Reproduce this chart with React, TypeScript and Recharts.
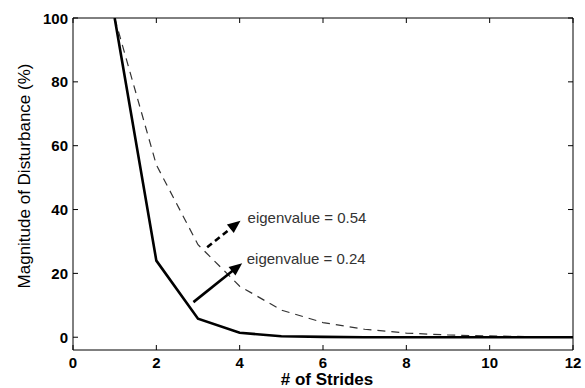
import React from 'react';
import { LineChart, Line, XAxis, YAxis, ReferenceLine, ReferenceDot } from 'recharts';

const strides = [1, 2, 3, 4, 5, 6, 7, 8, 9, 10, 11, 12];
const eig024 = [100, 24, 5.8, 1.4, 0.3, 0.1, 0, 0, 0, 0, 0, 0];
const eig054 = [100, 54, 29, 16, 8.5, 4.6, 2.5, 1.3, 0.7, 0.4, 0.2, 0.1];
const xTicks = [0, 2, 4, 6, 8, 10, 12];
const yTicks = [0, 20, 40, 60, 80, 100];
const labelFast = 'eigenvalue = 0.24';
const labelSlow = 'eigenvalue = 0.54';
const xTitle = '# of Strides';
const yTitle = 'Magnitude of Disturbance (%)';

const data = strides.map((s, i) => ({ s, a: eig024[i], b: eig054[i] }));

const FONT = '"Liberation Sans", Arial, sans-serif';
const TL = 5;

const BottomTick = (p: any) => (
  <g>
    <line x1={p.x} y1={p.y} x2={p.x} y2={p.y - TL} stroke="#000" strokeWidth={1} />
    <text x={p.x} y={p.y + 17.5} textAnchor="middle" fontFamily={FONT} fontWeight="bold" fontSize={15} fill="#000">
      {p.payload.value}
    </text>
  </g>
);
const TopTick = (p: any) => (
  <line x1={p.x} y1={p.y} x2={p.x} y2={p.y + TL} stroke="#000" strokeWidth={1} />
);
const LeftTick = (p: any) => (
  <g>
    <line x1={p.x} y1={p.y} x2={p.x + TL} y2={p.y} stroke="#000" strokeWidth={1} />
    <text x={p.x - 5} y={p.y + 5.5} textAnchor="end" fontFamily={FONT} fontWeight="bold" fontSize={15} fill="#000">
      {p.payload.value}
    </text>
  </g>
);
const RightTick = (p: any) => (
  <line x1={p.x} y1={p.y} x2={p.x - TL} y2={p.y} stroke="#000" strokeWidth={1} />
);

const arrowShape = (dashed: boolean, width: number) => (p: any) => {
  const { x1, y1, x2, y2 } = p;
  const dx = x2 - x1;
  const dy = y2 - y1;
  const len = Math.sqrt(dx * dx + dy * dy);
  const ux = dx / len;
  const uy = dy / len;
  const hl = 13;
  const hw = 5.5;
  const bx = x2 - ux * hl;
  const by = y2 - uy * hl;
  const pts = `${x2},${y2} ${bx - uy * hw},${by + ux * hw} ${bx + uy * hw},${by - ux * hw}`;
  return (
    <g>
      <line x1={x1} y1={y1} x2={bx + ux * 2} y2={by + uy * 2} stroke="#000" strokeWidth={width}
        strokeDasharray={dashed ? '6 4' : undefined} />
      <polygon points={pts} fill="#000" />
    </g>
  );
};

const textShape = (txt: string) => (p: any) => (
  <text x={p.cx} y={p.cy + 5} fontFamily={FONT} fontSize={15} fill="#333">
    {txt}
  </text>
);

export default function App() {
  return (
    <div style={{ position: 'absolute', left: 0, top: 0, background: '#fff' }}>
      <LineChart width={585} height={388} data={data} margin={{ top: 0, right: 0, bottom: 0, left: 0 }}>
        <XAxis
          dataKey="s"
          type="number"
          domain={[0, 12]}
          ticks={xTicks}
          allowDataOverflow
          height={38}
          tickSize={0}
          tickMargin={0}
          tickLine={false}
          axisLine={{ stroke: '#000' }}
          tick={<BottomTick />}
          label={(lp: any) => {
            const vb = lp.viewBox;
            return (
              <text x={vb.x + vb.width / 2 + 4} y={vb.y + 35} textAnchor="middle" fontFamily={FONT}
                fontWeight="bold" fontSize={17} fill="#000">
                {xTitle}
              </text>
            );
          }}
        />
        <XAxis
          xAxisId="top"
          orientation="top"
          dataKey="s"
          type="number"
          domain={[0, 12]}
          ticks={xTicks}
          allowDataOverflow
          height={18}
          tickSize={0}
          tickMargin={0}
          tickLine={false}
          axisLine={{ stroke: '#000' }}
          tick={<TopTick />}
        />
        <YAxis
          type="number"
          domain={[-4, 100]}
          ticks={yTicks}
          allowDataOverflow
          width={73}
          tickSize={0}
          tickMargin={0}
          tickLine={false}
          axisLine={{ stroke: '#000' }}
          tick={<LeftTick />}
          label={(lp: any) => {
            const vb = lp.viewBox;
            const cx = 24;
            const cy = vb.y + vb.height / 2 - 8;
            return (
              <text x={cx} y={cy} transform={`rotate(-90 ${cx} ${cy})`} textAnchor="middle"
                dominantBaseline="central" fontFamily={FONT} fontSize={17} fill="#000">
                {yTitle}
              </text>
            );
          }}
        />
        <YAxis
          yAxisId="right"
          orientation="right"
          type="number"
          domain={[-4, 100]}
          ticks={yTicks}
          allowDataOverflow
          width={12}
          tickSize={0}
          tickMargin={0}
          tickLine={false}
          axisLine={{ stroke: '#000' }}
          tick={<RightTick />}
        />
        <Line dataKey="b" type="linear" stroke="#333" strokeWidth={1.2} strokeDasharray="8 6"
          dot={false} isAnimationActive={false} />
        <Line dataKey="a" type="linear" stroke="#000" strokeWidth={2.6}
          dot={false} isAnimationActive={false} />
        <ReferenceLine segment={[{ x: 3.22, y: 28.2 }, { x: 4.02, y: 36.5 }]} shape={arrowShape(true, 2.6)} />
        <ReferenceLine segment={[{ x: 2.89, y: 11.0 }, { x: 4.06, y: 23.2 }]} shape={arrowShape(false, 2.6)} />
        <ReferenceDot x={4.19} y={37.5} r={0} shape={textShape(labelSlow)} />
        <ReferenceDot x={4.17} y={24.5} r={0} shape={textShape(labelFast)} />
      </LineChart>
    </div>
  );
}
